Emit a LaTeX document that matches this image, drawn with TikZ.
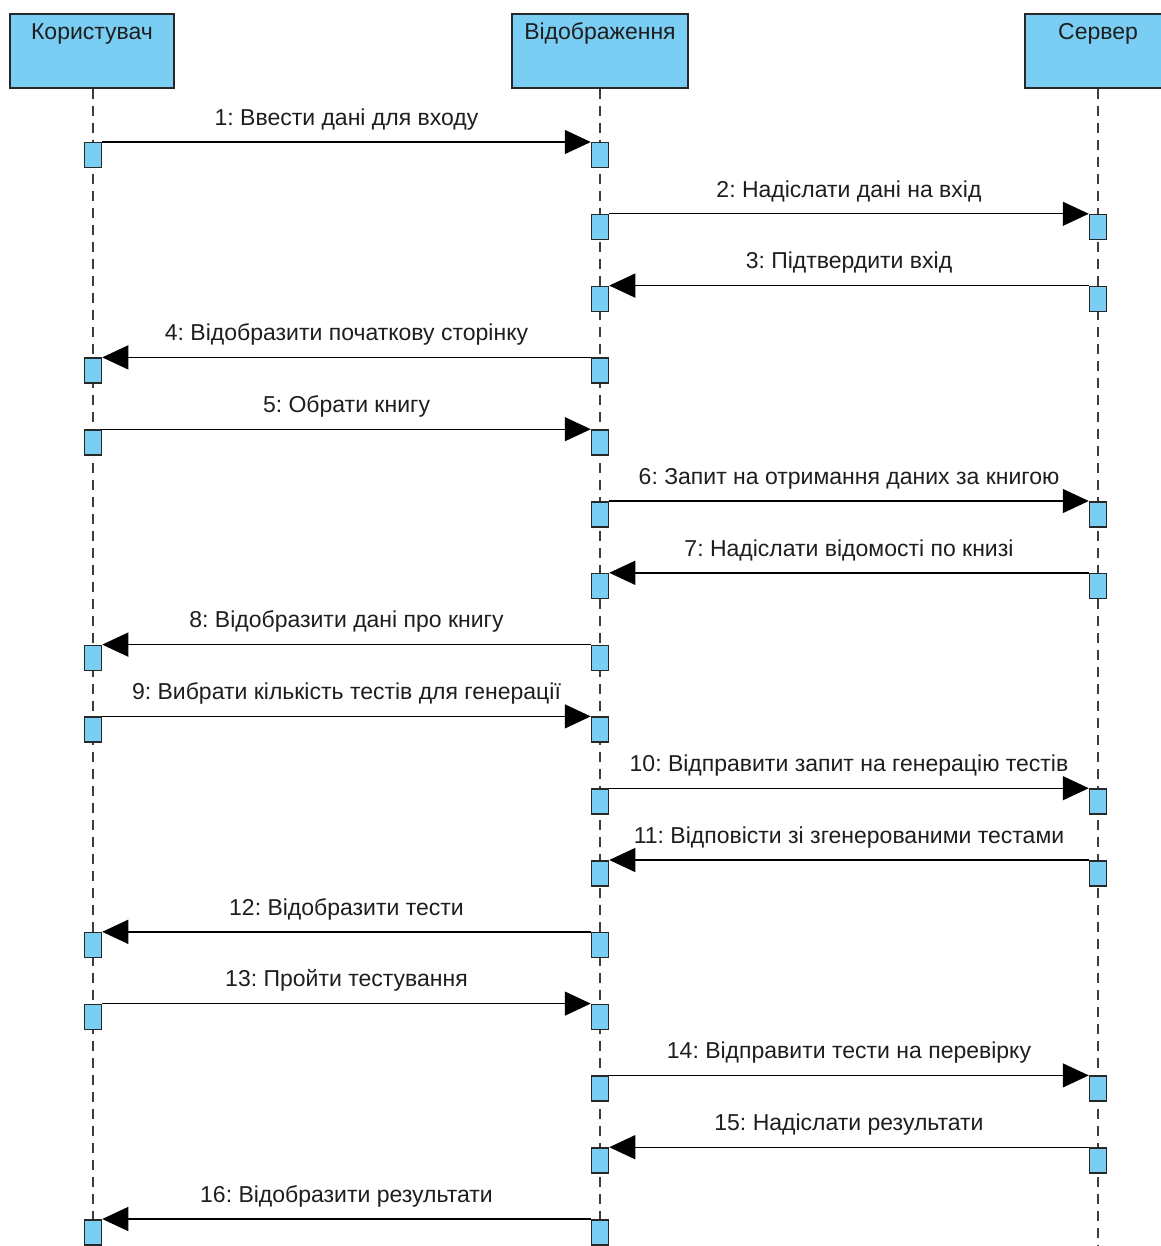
\documentclass[tikz,border=0pt]{standalone}
\usepackage{fontspec}
\setmainfont{Liberation Sans}
\usetikzlibrary{arrows.meta}
\definecolor{boxfill}{RGB}{122,206,244}
\definecolor{edge}{RGB}{40,40,40}
\definecolor{txt}{RGB}{30,30,30}
\tikzset{
  head/.style={draw=edge, line width=1.5pt, fill=boxfill, minimum height=74pt, text height=26pt, text depth=48pt, inner sep=0pt, font=\fontsize{23}{26}\selectfont\frenchspacing, text=txt},
  life/.style={draw=edge!90, line width=1.5pt, dash pattern=on 10pt off 7pt},
  act/.style={draw=edge, line width=1.5pt, fill=boxfill, minimum width=17pt, minimum height=25pt, inner sep=0pt, anchor=north},
  msg/.style={draw=black, line width=1.4pt, -{Triangle[length=26pt, width=24pt]}},
  lbl/.style={font=\fontsize{23}{26}\selectfont\frenchspacing, text=txt, inner sep=0pt, text depth=0pt, above=16pt}
}
\begin{document}
\begin{tikzpicture}[x=1pt,y=-1pt]
\useasboundingbox[fill=white] (0,0) rectangle (1160,1246);
\node[head, minimum width=164pt] (U) at (92,51) {Користувач};
\node[head, minimum width=176pt] (V) at (600,51) {Відображення};
\node[head, minimum width=146pt] (S) at (1098,51) {Сервер};
\coordinate (Ue) at (93,1246);
\coordinate (Ve) at (600,1246);
\coordinate (Se) at (1098,1246);
\draw[life] (U.south -| Ue) -- (Ue);
\draw[life] (V.south) -- (Ve);
\draw[life] (S.south) -- (Se);
\foreach \i/\a/\b/\sa/\ra/\t in {
 1/93/600/east/west/{1: Ввести дані для входу},
 2/600/1098/east/west/{2: Надіслати дані на вхід},
 3/1098/600/west/east/{3: Підтвердити вхід},
 4/600/93/west/east/{4: Відобразити початкову сторінку},
 5/93/600/east/west/{5: Обрати книгу},
 6/600/1098/east/west/{6: Запит на отримання даних за книгою},
 7/1098/600/west/east/{7: Надіслати відомості по книзі},
 8/600/93/west/east/{8: Відобразити дані про книгу},
 9/93/600/east/west/{9: Вибрати кількість тестів для генерації},
 10/600/1098/east/west/{10: Відправити запит на генерацію тестів},
 11/1098/600/west/east/{11: Відповісти зі згенерованими тестами},
 12/600/93/west/east/{12: Відобразити тести},
 13/93/600/east/west/{13: Пройти тестування},
 14/600/1098/east/west/{14: Відправити тести на перевірку},
 15/1098/600/west/east/{15: Надіслати результати},
 16/600/93/west/east/{16: Відобразити результати}}{
  \pgfmathsetmacro{\yy}{142+(\i-1)*71.8}
  \node[act] (s\i) at (\a,\yy) {};
  \node[act] (r\i) at (\b,\yy) {};
  \draw[msg] (s\i.north \sa) -- node[lbl] {\t} (r\i.north \ra);
}
\end{tikzpicture}
\end{document}
